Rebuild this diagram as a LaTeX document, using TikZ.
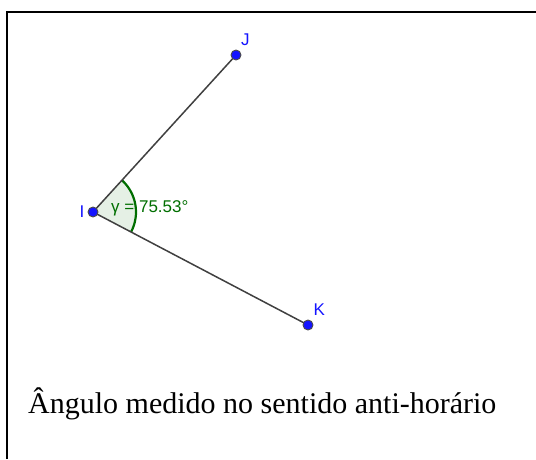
\documentclass[tikz,border=0pt]{standalone}
\usepackage{fontspec}
\setmainfont{Liberation Serif}
\newfontfamily\geofont{Liberation Sans}
\usetikzlibrary{angles}
\definecolor{ptblue}{RGB}{20,20,255}
\definecolor{anggreen}{RGB}{0,110,0}

\tikzset{
  seg/.style={draw, line width=1.5pt, black!75}, % segmentos
  dot/.style={circle, fill=ptblue, draw=black!70, line width=0.9pt, inner sep=0pt, minimum size=10pt}, % pontos
  dot label/.style={font=\geofont\fontsize{17}{17}\selectfont, text=ptblue, inner sep=1pt} % rotulos
}

\begin{document}
\begin{tikzpicture}[x=1pt,y=-1pt]
    \useasboundingbox (0,0) rectangle (536,459);
    \draw[line width=2.2pt] (7,459) -- (7,12) -- (536,12);

    \coordinate (I) at (93,212);
    \coordinate (J) at (236,55);
    \coordinate (K) at (308,325);

    \pic[draw=anggreen, fill=anggreen, fill opacity=0.1, line width=2.2pt, angle radius=43pt] {angle=K--I--J};
    \node[font=\geofont\fontsize{17}{17}\selectfont, text=anggreen, anchor=west, inner sep=0pt] (gamma) at (111,208) {γ = 75.53°};

    \draw[seg] (I) -- (J) (I) -- (K);
    \foreach \p/\ang/\dist in {I/180/2pt,J/65/4pt,K/62/4pt} {
    \node[dot, label={[dot label, label distance=\dist]\ang:\p}] at (\p) {};
      }

    \node[font=\fontsize{30}{30}\selectfont, anchor=base west, inner sep=0pt] (caption) at (28,413) {Ângulo medido no sentido anti-horário};
    \end{tikzpicture}
\end{document}
